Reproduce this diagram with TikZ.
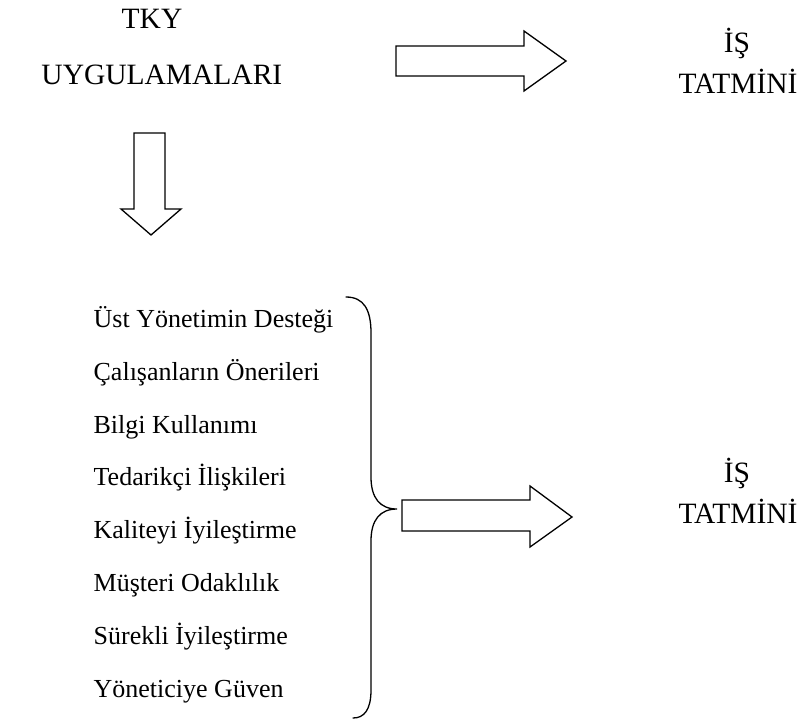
\documentclass[tikz,border=0pt]{standalone}
\usepackage{fontspec}
\setmainfont{Liberation Serif}
\begin{document}
\begin{tikzpicture}[x=1pt,y=-1pt, line width=1.3pt, line join=miter,
  head/.style={font=\fontsize{29.5}{29.5}\selectfont, anchor=base, inner sep=0pt},
  item/.style={font=\fontsize{26}{26}\selectfont, anchor=base west, inner sep=0pt},
  blockarrow/.style={draw=black, fill=white}]
\useasboundingbox (0,0) rectangle (810,726);
% headings
\node[head] (tky) at (152,28) {TKY};
\node[head, anchor=base east] (uyg) at (283,84) {UYGULAMALARI};
\node[head] (is1) at (737,52) {İŞ};
\node[head] (tat1) at (738,93) {TATMİNİ};
\node[head] (is2) at (737,482) {İŞ};
\node[head] (tat2) at (738,523) {TATMİNİ};
% list
\node[item] (l1) at (93,327) {Üst Yönetimin Desteği};
\node[item] (l2) at (93,380) {Çalışanların Önerileri};
\node[item] (l3) at (93,433) {Bilgi Kullanımı};
\node[item] (l4) at (93,485) {Tedarikçi İlişkileri};
\node[item] (l5) at (93,538) {Kaliteyi İyileştirme};
\node[item] (l6) at (93,591) {Müşteri Odaklılık};
\node[item] (l7) at (93,644) {Sürekli İyileştirme};
\node[item] (l8) at (93,697) {Yöneticiye Güven};
% block arrows
\draw[blockarrow] (396,46) -- (524,46) -- (524,31) -- (566,61) -- (524,91) -- (524,76) -- (396,76) -- cycle;
\draw[blockarrow] (134,133) -- (165,133) -- (165,209) -- (181,209) -- (151,235) -- (121,209) -- (134,209) -- cycle;
\draw[blockarrow] (402,500) -- (530,500) -- (530,486) -- (572,517) -- (530,547) -- (530,531) -- (402,531) -- cycle;
% brace
\draw[line cap=round] (346,297) .. controls (364,297) and (371,310) .. (371,333)
  -- (371,477) .. controls (371,498) and (380,509) .. (397,509)
  .. controls (380,509) and (371,520) .. (371,541)
  -- (371,690) .. controls (371,710) and (364,718) .. (353,718);
\end{tikzpicture}
\end{document}
